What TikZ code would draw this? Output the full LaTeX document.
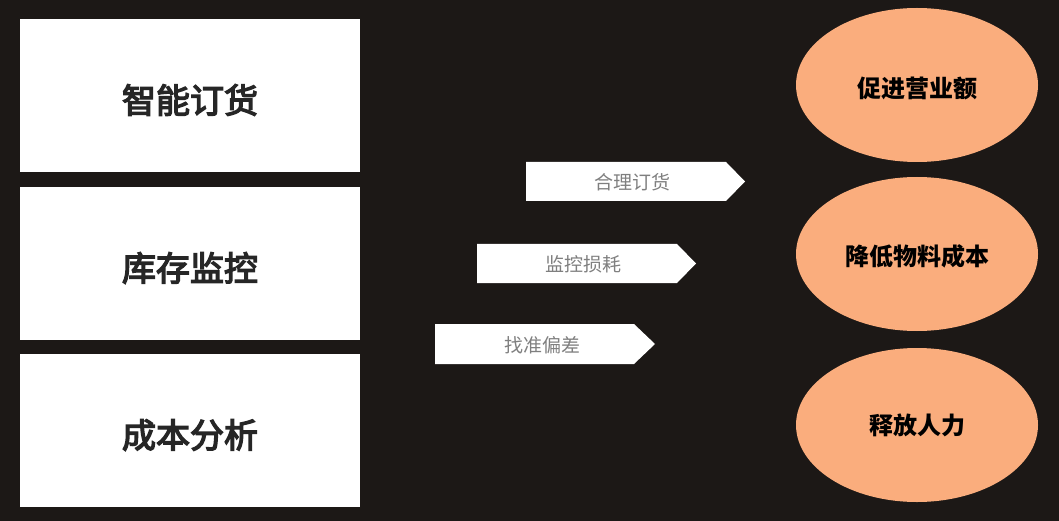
\documentclass[tikz,border=0pt]{standalone}
\usepackage{fontspec}
\newfontfamily\cjk{Noto Sans CJK SC}
\newfontfamily\cjkmed[FakeBold=4]{Noto Sans CJK SC}
\usetikzlibrary{shapes.geometric}
\definecolor{bg}{HTML}{1C1816}
\definecolor{peach}{HTML}{FAAD7D}
\definecolor{darktext}{HTML}{262626}
\definecolor{greytext}{HTML}{7F7F7F}
\begin{document}
\begin{tikzpicture}[x=1pt,y=-1pt,
  box/.style={fill=white, draw=none, minimum width=340pt, minimum height=153pt, inner sep=0pt},
  boxtext/.style={font=\cjkmed\fontsize{34}{40}\selectfont, text=darktext, inner sep=0pt},
  goal/.style={ellipse, fill=peach, draw=none, minimum width=242pt, minimum height=154pt, inner sep=0pt,
    font=\cjk\bfseries\fontsize{24}{30}\selectfont, text=black},
  tag/.style={font=\cjk\fontsize{19}{24}\selectfont, text=greytext, inner sep=0pt},
  arrowshape/.style={fill=white, draw=none}]
\fill[bg] (0,0) rectangle (1059,521);
\useasboundingbox (0,0) rectangle (1059,521);
% left boxes
\node[box] (b1) at (190,95.5) {};
\node[boxtext] (l1) at (190,100) {智能订货};
\node[box] (b2) at (190,263.5) {};
\node[boxtext] (l2) at (190,268) {库存监控};
\node[box] (b3) at (190,430.5) {};
\node[boxtext] (l3) at (190,435) {成本分析};
% ellipses
\node[goal] (e1) at (917,85) {};
\node[goal, fill=none] (g1) at (917,88) {促进营业额};
\node[goal] (e2) at (917,254) {};
\node[goal, fill=none] (g2) at (917,256) {降低物料成本};
\node[goal] (e3) at (917,425) {};
\node[goal, fill=none] (g3) at (917,425) {释放人力};
% arrow tags
\fill[arrowshape] (526,162) -- (726,162) -- (745,181.5) -- (726,201) -- (526,201) -- cycle;
\node[tag] (t1) at (632,182) {合理订货};
\fill[arrowshape] (477,244) -- (677,244) -- (696,263.5) -- (677,283) -- (477,283) -- cycle;
\node[tag] (t2) at (583,264) {监控损耗};
\fill[arrowshape] (435,324) -- (634,324) -- (655,344) -- (634,364) -- (435,364) -- cycle;
\node[tag] (t3) at (542,345) {找准偏差};
\end{tikzpicture}
\end{document}
